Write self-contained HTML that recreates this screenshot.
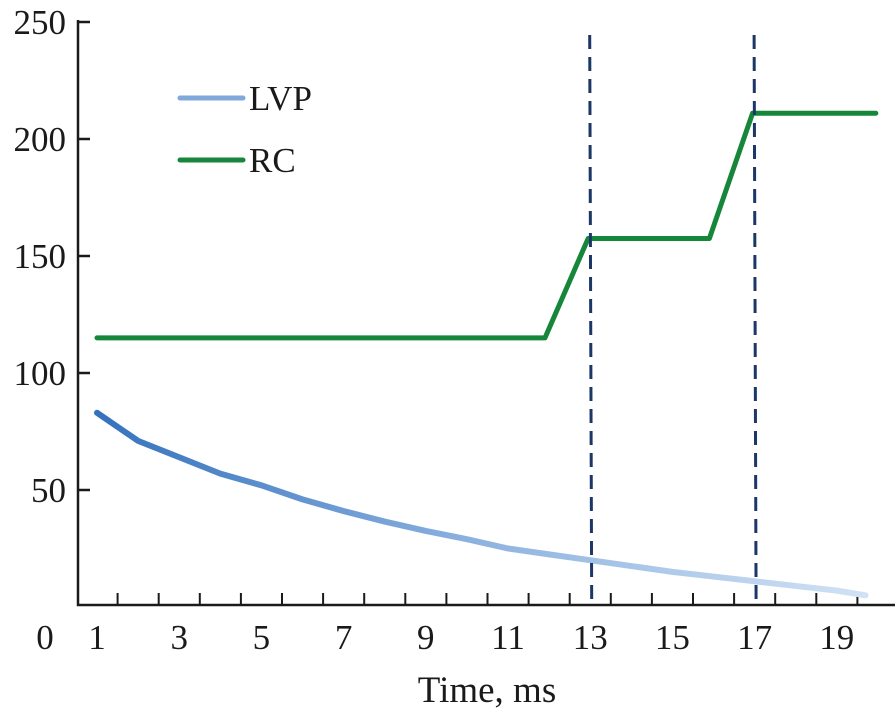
<!DOCTYPE html>
<html><head><meta charset="utf-8"><style>
body{margin:0;background:#fff}
svg text{font-family:"Liberation Serif",serif;fill:#1a1a1a}
</style></head><body>
<svg id="c" width="895" height="715">
<defs><linearGradient id="lg" x1="97" y1="0" x2="876" y2="0" gradientUnits="userSpaceOnUse">
<stop offset="0" stop-color="#3572bd"/><stop offset="0.5" stop-color="#8fb4e0"/><stop offset="1" stop-color="#d3e3f5"/></linearGradient></defs>
</svg>
<script>
const yTicks=[50,100,150,200,250];
const xLabels=[1,3,5,7,9,11,13,15,17,19];
const lvpT=[1,2,3,4,5,6,7,8,9,10,11,12,13,14,15,16,17,18,19,19.7];
const lvpV=[83,71,64,57,52,46,41,36.5,32.5,29,25,22.5,20,17.5,15,13,11,9,7,5];
const rcT=[1,11.9,12.95,15.9,16.95,19.95];
const rcV=[115,115,157.5,157.5,211,211];
const markers=[13,17];
const NS='http://www.w3.org/2000/svg';
const svg=document.getElementById('c');
const X=t=>97+41.1*(t-1);
const Y=v=>607-2.34*v;
function mk(tag,attrs,parent){const e=document.createElementNS(NS,tag);for(const k in attrs)e.setAttribute(k,attrs[k]);(parent||svg).appendChild(e);return e;}
// axes
let a=mk('path',{d:'M78,20 V605 H895',fill:'none',stroke:'#1a1a1a','stroke-width':2.5});


yTicks.forEach(v=>{
  const t=mk('line',{x1:78,x2:90,y1:Y(v),y2:Y(v),stroke:'#1a1a1a','stroke-width':2.5});
  
  
  const l=mk('text',{x:66,y:Y(v)+12,'font-size':35,'text-anchor':'end'});l.textContent=v;
  
  
});
for(let k=1;k<=20;k++){
  const x=X(k+0.5)-41.1;
  const t=mk('line',{x1:76.5+41.1*k,x2:76.5+41.1*k,y1:605,y2:593,stroke:'#1a1a1a','stroke-width':2});
  
  
}
const z=mk('text',{x:45,y:649,'font-size':35,'text-anchor':'middle'});z.textContent='0';


xLabels.forEach(v=>{
  const l=mk('text',{x:X(v),y:649,'font-size':35,'text-anchor':'middle'});l.textContent=v;
  
  
});
const tt=mk('text',{x:487,y:702,'font-size':37,'text-anchor':'middle'});tt.textContent='Time, ms';


// series
const lvp=mk('polyline',{points:lvpT.map((t,i)=>X(t)+','+Y(lvpV[i])).join(' '),fill:'none',stroke:'url(#lg)','stroke-width':6,'stroke-linecap':'round','stroke-linejoin':'round'});


const rc=mk('polyline',{points:rcT.map((t,i)=>X(t)+','+Y(rcV[i])).join(' '),fill:'none',stroke:'#16873a','stroke-width':5,'stroke-linecap':'round','stroke-linejoin':'round'});


markers.forEach(t=>{
  const d=mk('line',{x1:X(t)-0.5,x2:X(t)+1.5,y1:35,y2:605,stroke:'#1c3766','stroke-width':3,'stroke-dasharray':'14,8'});
  
  
});
// legend
const l1=mk('line',{x1:180,x2:243,y1:98,y2:98,stroke:'#7fa9da','stroke-width':5,'stroke-linecap':'round'});


const t1=mk('text',{x:249,y:110,'font-size':35});t1.textContent='LVP';


const l2=mk('line',{x1:180,x2:243,y1:160,y2:160,stroke:'#16873a','stroke-width':5,'stroke-linecap':'round'});


const t2=mk('text',{x:249,y:172,'font-size':35});t2.textContent='RC';


</script>
</body></html>
